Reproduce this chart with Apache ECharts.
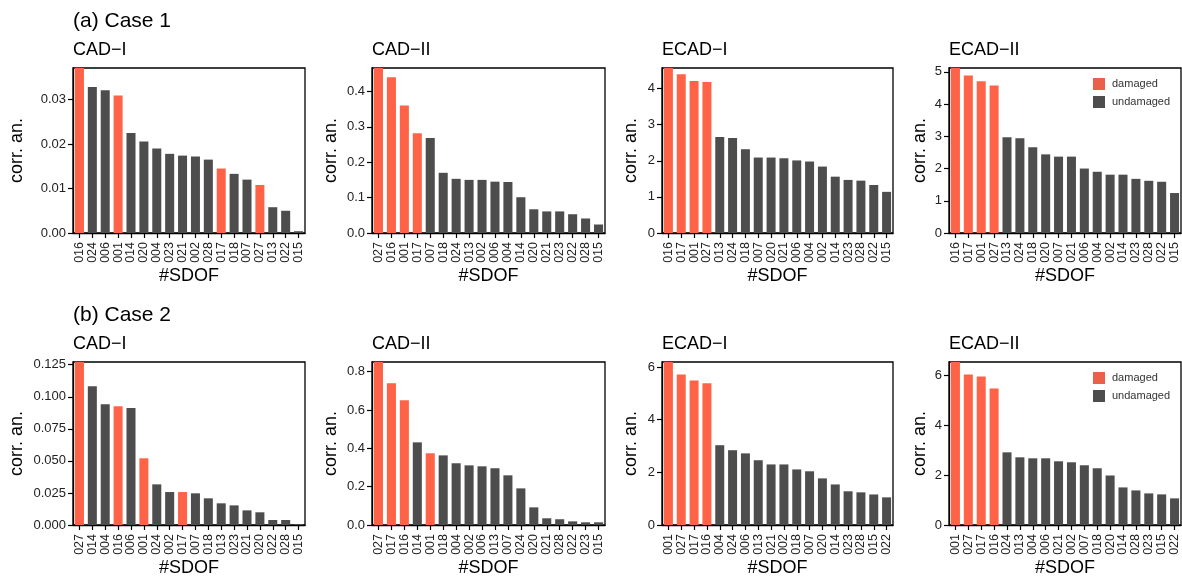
<!DOCTYPE html>
<html>
<head>
<meta charset="utf-8">
<script src="https://cdn.jsdelivr.net/npm/echarts@6/dist/echarts.min.js"></script>
<style>
html,body{margin:0;padding:0;background:#fff;}
#chart{width:1182px;height:578px;}
</style>
</head>
<body>
<div id="chart"></div>
<script>
// ---- data ----
const damagedSDOF = ['001', '016', '017', '027'];

const case1CadICats = ['016','024','006','001','014','020','004','023','021','002','028','017','018','007','027','013','022','015'];
const case1CadIVals = [0.0371,0.0328,0.0321,0.0309,0.0225,0.0206,0.0190,0.0178,0.0174,0.0172,0.0165,0.0145,0.0133,0.0120,0.0108,0.0058,0.0050,0.0004];

const case1CadIICats = ['027','016','001','017','007','018','024','013','002','006','004','014','020','021','023','022','028','015'];
const case1CadIIVals = [0.466,0.440,0.360,0.282,0.268,0.170,0.153,0.150,0.150,0.145,0.144,0.101,0.067,0.061,0.061,0.053,0.041,0.024];

const case1EcadICats = ['016','017','001','027','013','024','018','007','020','021','006','004','002','014','023','028','022','015'];
const case1EcadIVals = [4.57,4.40,4.21,4.18,2.66,2.63,2.32,2.09,2.09,2.07,2.01,1.98,1.84,1.56,1.47,1.45,1.33,1.14];

const case1EcadIICats = ['016','017','001','027','013','024','018','020','007','021','006','004','002','014','023','028','022','015'];
const case1EcadIIVals = [5.12,4.89,4.71,4.58,2.97,2.94,2.66,2.44,2.37,2.37,2.00,1.90,1.81,1.81,1.68,1.62,1.59,1.24];

const case2CadICats = ['027','014','004','016','006','001','024','002','017','007','018','013','023','021','020','022','028','015'];
const case2CadIVals = [0.1271,0.1081,0.0941,0.0925,0.0912,0.0520,0.0317,0.0257,0.0257,0.0247,0.0208,0.0169,0.0153,0.0114,0.0099,0.0039,0.0039,0.0008];

const case2CadIICats = ['027','017','016','014','001','018','004','002','006','013','007','024','020','021','028','022','023','015'];
const case2CadIIVals = [0.850,0.739,0.650,0.431,0.374,0.363,0.322,0.311,0.306,0.296,0.259,0.191,0.092,0.035,0.030,0.019,0.014,0.014];

const case2EcadICats = ['001','027','017','016','004','024','006','013','021','002','018','007','020','014','023','028','015','022'];
const case2EcadIVals = [6.19,5.72,5.49,5.38,3.03,2.84,2.72,2.46,2.30,2.30,2.11,2.04,1.77,1.54,1.28,1.24,1.16,1.05];

const case2EcadIICats = ['001','027','017','016','024','013','004','006','021','002','007','018','020','014','028','023','015','022'];
const case2EcadIIVals = [6.55,6.05,5.97,5.49,2.92,2.72,2.68,2.68,2.56,2.52,2.40,2.28,1.99,1.51,1.39,1.27,1.23,1.07];

const caseTitles = ['(a) Case 1', '(b) Case 2'];
const methodTitles = ['CAD\u2212I', 'CAD\u2212II', 'ECAD\u2212I', 'ECAD\u2212II'];
const yTickIntervals = [0.01, 0.1, 1, 1, 0.025, 0.2, 2, 2];
const yTickDecimals = [2, 1, 0, 0, 3, 1, 0, 0];
const legendNames = ['damaged', 'undamaged'];
const xAxisTitle = '#SDOF';
const yAxisTitle = 'corr. an.';

// ---- layout / style ----
const panels = [
  {cats: case1CadICats, vals: case1CadIVals},
  {cats: case1CadIICats, vals: case1CadIIVals},
  {cats: case1EcadICats, vals: case1EcadIVals},
  {cats: case1EcadIICats, vals: case1EcadIIVals},
  {cats: case2CadICats, vals: case2CadIVals},
  {cats: case2CadIICats, vals: case2CadIIVals},
  {cats: case2EcadICats, vals: case2EcadIVals},
  {cats: case2EcadIICats, vals: case2EcadIIVals}
];
const gridLefts = [73, 372, 662, 949];
const gridWidths = [232, 233, 231, 232];
const gridTops = [68, 362];
const gridHeight = 165;
const yNameGaps = [47, 32, 22, 20];
const RED = '#FF6347', GREY = '#4D4D4D';
const FONT = '"Liberation Sans", Arial, Helvetica, sans-serif';

const grids = [], xAxes = [], yAxes = [], series = [], titles = [];
panels.forEach((p, i) => {
  const row = Math.floor(i / 4), col = i % 4;
  grids.push({
    left: gridLefts[col], top: gridTops[row], width: gridWidths[col], height: gridHeight,
    show: true, borderColor: '#000', borderWidth: 1.3, backgroundColor: 'transparent', containLabel: false
  });
  xAxes.push({
    type: 'category', gridIndex: i, data: p.cats, boundaryGap: true,
    name: xAxisTitle, nameLocation: 'middle', nameGap: 34,
    nameTextStyle: {fontFamily: FONT, fontSize: 18, color: '#000'},
    axisLine: {show: true, lineStyle: {color: '#000', width: 1.3}},
    axisTick: {show: true, alignWithLabel: true, interval: 0, length: 5, lineStyle: {color: '#000', width: 1.2}},
    axisLabel: {interval: 0, rotate: 90, margin: 9, fontFamily: FONT, fontSize: 12.5, color: '#222'},
    splitLine: {show: false}
  });
  const dec = yTickDecimals[i];
  yAxes.push({
    type: 'value', gridIndex: i, min: 0, max: 'dataMax', interval: yTickIntervals[i],
    name: yAxisTitle, nameLocation: 'middle', nameGap: yNameGaps[col], nameRotate: 90,
    nameTextStyle: {fontFamily: FONT, fontSize: 18, color: '#000'},
    axisLine: {show: true, lineStyle: {color: '#000', width: 1.3}},
    axisTick: {show: true, length: 5, lineStyle: {color: '#000', width: 1.2}},
    axisLabel: {showMaxLabel: false, margin: 7, fontFamily: FONT, fontSize: 13, color: '#222',
      formatter: v => Number(v).toFixed(dec)},
    splitLine: {show: false}
  });
  series.push({
    name: legendNames[0], type: 'bar', xAxisIndex: i, yAxisIndex: i, stack: 'p' + i,
    barWidth: '70%', itemStyle: {color: RED},
    data: p.cats.map((c, k) => damagedSDOF.includes(c) ? p.vals[k] : '-')
  });
  series.push({
    name: legendNames[1], type: 'bar', xAxisIndex: i, yAxisIndex: i, stack: 'p' + i,
    barWidth: '70%', itemStyle: {color: GREY},
    data: p.cats.map((c, k) => damagedSDOF.includes(c) ? '-' : p.vals[k])
  });
  titles.push({
    text: methodTitles[col], left: gridLefts[col], top: gridTops[row] - 27, padding: 0,
    textStyle: {fontFamily: FONT, fontSize: 18, fontWeight: 'normal', color: '#000'}
  });
});
caseTitles.forEach((t, r) => {
  titles.push({
    text: t, left: 73, top: gridTops[r] - 57, padding: 0,
    textStyle: {fontFamily: FONT, fontSize: 21, fontWeight: 'normal', color: '#000'}
  });
});

const legends = [78, 372].map(top => ({
  orient: 'vertical', left: 1093, top: top, padding: 0, itemGap: 6,
  itemWidth: 12, itemHeight: 12, icon: 'rect', selectedMode: false,
  textStyle: {fontFamily: FONT, fontSize: 11, color: '#333', padding: [0, 0, 0, 2]},
  data: [{name: legendNames[0], itemStyle: {color: '#EA604B'}}, {name: legendNames[1], itemStyle: {color: GREY}}]
}));

const chart = echarts.init(document.getElementById('chart'), null, {renderer: 'canvas'});
chart.setOption({
  backgroundColor: '#fff',
  animation: false,
  title: titles,
  legend: legends,
  grid: grids,
  xAxis: xAxes,
  yAxis: yAxes,
  series: series
});
</script>
</body>
</html>
